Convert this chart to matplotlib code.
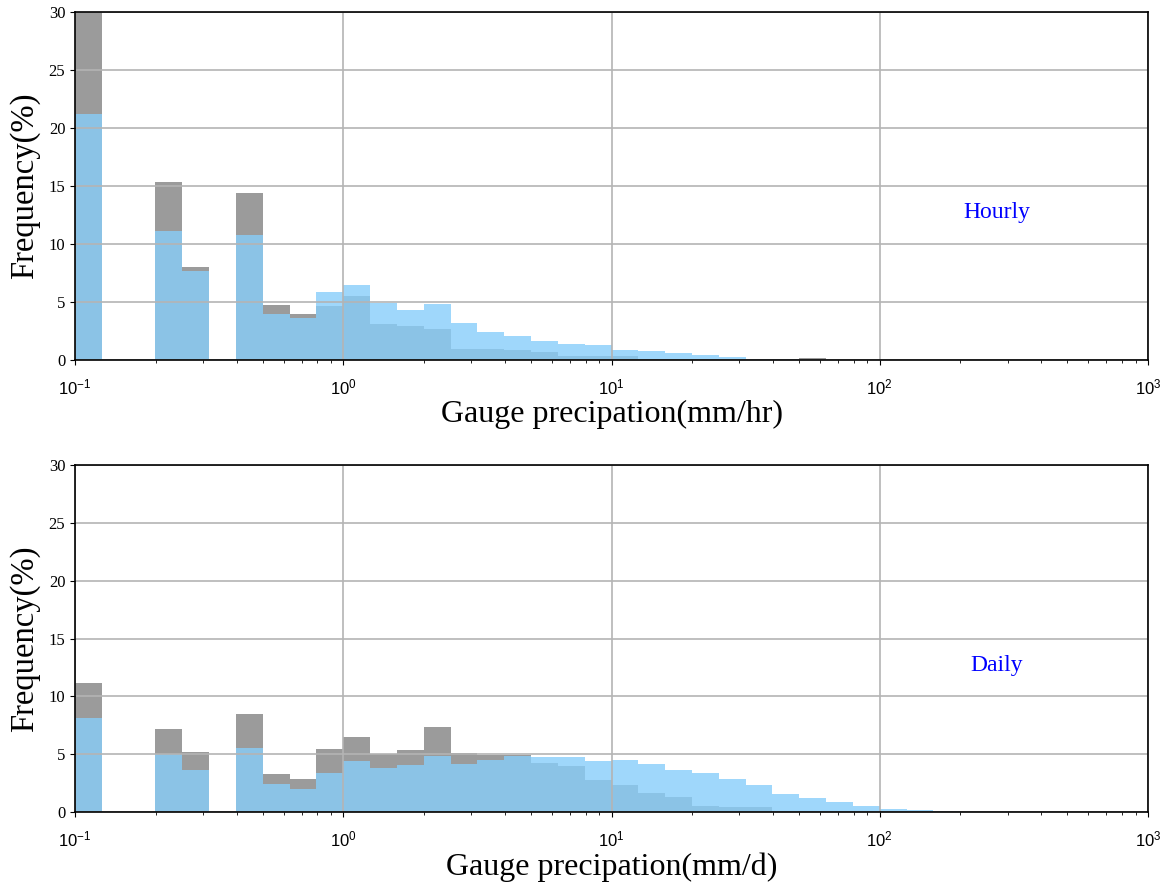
import numpy as np
import matplotlib
matplotlib.use("Agg")
import matplotlib.pyplot as plt

# log-spaced bins, 0.1 decade wide, from 0.1 to 1000
bin_edges = np.logspace(-1, 3, 41)

# frequency (%) per bin
hourly_gauge = [34.0, 0, 0, 15.33, 8.02, 0, 14.38, 4.75, 3.97, 4.66,
                5.52, 3.10, 2.95, 2.68, 0.92, 0.98, 0.83, 0.72, 0.37, 0.37,
                0.32, 0.09, 0.05, 0.03, 0.02, 0.01, 0.01, 0.17, 0, 0,
                0, 0, 0, 0, 0, 0, 0, 0, 0, 0]
hourly_sat = [21.2, 0, 0, 11.1, 7.68, 0, 10.78, 4.0, 3.62, 5.9,
              6.49, 4.92, 4.33, 4.86, 3.21, 2.44, 2.10, 1.61, 1.38, 1.26,
              0.83, 0.78, 0.60, 0.40, 0.28, 0.12, 0.06, 0.03, 0.01, 0,
              0, 0, 0, 0, 0, 0, 0, 0, 0, 0]
daily_gauge = [11.18, 0, 0, 7.18, 5.16, 0, 8.47, 3.26, 2.82, 5.45,
               6.48, 5.01, 5.39, 7.38, 5.10, 4.96, 4.90, 4.24, 4.00, 2.80,
               2.33, 1.64, 1.27, 0.55, 0.46, 0.43, 0.05, 0.03, 0, 0,
               0, 0, 0, 0, 0, 0, 0, 0, 0, 0]
daily_sat = [8.16, 0, 0, 5.01, 3.66, 0, 5.53, 2.45, 1.96, 3.34,
             4.41, 3.80, 4.06, 4.87, 4.18, 4.52, 4.85, 4.73, 4.73, 4.38,
             4.50, 4.18, 3.66, 3.37, 2.82, 2.33, 1.56, 1.24, 0.84, 0.52,
             0.26, 0.17, 0.08, 0.04, 0.02, 0, 0, 0, 0, 0]

panels = [
    (hourly_gauge, hourly_sat, "Gauge precipation(mm/hr)", "Hourly"),
    (daily_gauge, daily_sat, "Gauge precipation(mm/d)", "Daily"),
]

plt.rcParams["font.family"] = "Liberation Serif"

fig = plt.figure(figsize=(11.65, 8.84), dpi=100)
ax_top = fig.add_axes([0.0644, 0.5928, 0.921, 0.3936])
ax_bot = fig.add_axes([0.0644, 0.0814, 0.921, 0.3926])

left = bin_edges[:-1]
width = np.diff(bin_edges)

for ax, (gauge, sat, xlabel, tag) in zip([ax_top, ax_bot], panels):
    ax.bar(left, gauge, width=width, align="edge", color="#9b9b9b",
           linewidth=0, zorder=1)
    ax.bar(left, sat, width=width, align="edge", color="lightskyblue",
           alpha=0.8, linewidth=0, zorder=2)
    ax.set_xscale("log")
    ax.set_xlim(0.1, 1000)
    ax.set_ylim(0, 30)
    ax.set_yticks([0, 5, 10, 15, 20, 25, 30])
    ax.grid(True, which="major", color="#b4b4b4", linewidth=1.2, zorder=3)
    ax.set_axisbelow(False)
    for s in ax.spines.values():
        s.set_linewidth(1.2)
        s.set_zorder(4)
    ax.tick_params(axis="x", which="major", labelsize=12, pad=9,
                   labelfontfamily="Liberation Sans")
    ax.tick_params(axis="y", labelsize=12)
    ax.set_xlabel(xlabel, fontsize=23, labelpad=2)
    ax.set_ylabel("Frequency(%)", fontsize=23.5, labelpad=6)
    ax.text(10 ** 2.437, 12.7, tag, color="blue", fontsize=17,
            ha="center", va="center")

fig.savefig("out.png", dpi=100)
